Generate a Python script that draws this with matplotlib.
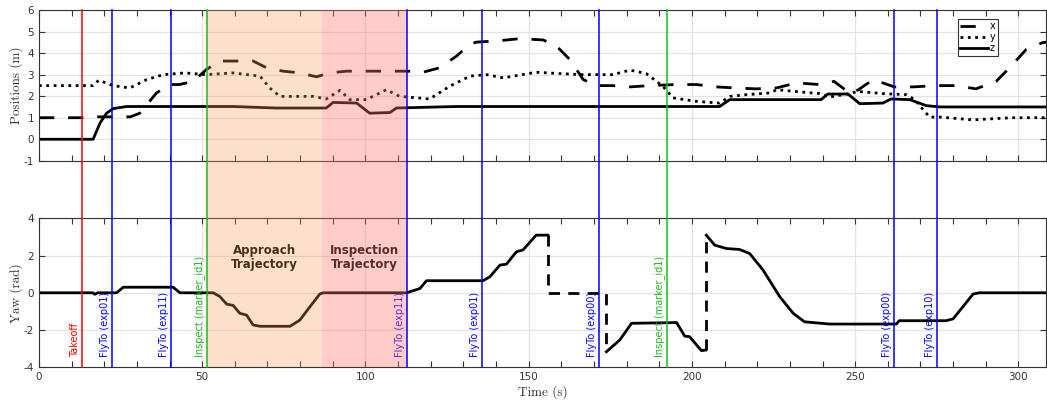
import numpy as np
import matplotlib
matplotlib.use("Agg")
import matplotlib.pyplot as plt
from matplotlib.lines import Line2D
from matplotlib.patches import Rectangle
from matplotlib.ticker import MultipleLocator
import matplotlib.transforms as mtransforms

plt.rcParams["axes.unicode_minus"] = False

# positions (m) vs time (s)
t_x = [0, 16.5, 18, 28, 30.9, 36, 40.1, 43, 47.3, 51.3, 55.4, 65.6, 69.7, 74.8, 79.9, 85, 89.1, 94.2,
       113, 117.6, 122.8, 127.9, 132, 134, 140, 147.3, 154.4, 158.5, 162.6, 166.7, 170.8, 175.8, 181,
       187, 195.2, 201.4, 207.5, 213.6, 219.7, 225.9, 232, 239, 243.5, 248.5, 251, 255.5, 262, 267.7,
       274.9, 281, 287, 293.2, 297.3, 302.4, 307.5, 308.5]
x_pos = [1.0, 1.0, 1.04, 1.04, 1.21, 2.15, 2.54, 2.54, 2.69, 3.24, 3.63, 3.63, 3.32, 3.16, 3.08, 2.9, 3.08, 3.16,
         3.16, 3.11, 3.32, 3.86, 4.41, 4.51, 4.56, 4.67, 4.61, 4.33, 3.7, 2.77, 2.49, 2.49, 2.43,
         2.49, 2.54, 2.54, 2.43, 2.38, 2.34, 2.38, 2.62, 2.54, 2.69, 2.12, 2.3, 2.77, 2.43, 2.43,
         2.49, 2.49, 2.34, 2.69, 3.32, 4.17, 4.49, 4.5]
t_y = [0, 16.6, 18.3, 22.7, 27.8, 33, 38.1, 44.7, 51.3, 59.5, 67.7, 70.7, 73.8, 79.9, 84, 88, 92.2, 95.2,
       100.3, 106.4, 110.5, 119.7, 125.8, 132, 137, 142.2, 152.3, 165.6, 175.8, 181, 186, 191.1, 194.2,
       201.3, 208.5, 211.6, 216.7, 223.8, 226, 233, 239.1, 242.2, 248.3, 250.8, 258.5, 265.7, 268.2,
       272.8, 275.9, 286, 298, 308.5]
y_pos = [2.49, 2.49, 2.74, 2.49, 2.38, 2.77, 3.0, 3.08, 3.0, 3.08, 2.93, 2.38, 1.99, 1.99, 1.99, 1.87, 2.27, 1.84,
         1.84, 2.3, 1.99, 1.87, 2.46, 2.93, 3.0, 2.85, 3.11, 3.0, 3.0, 3.21, 3.05, 2.46, 1.92,
         1.76, 1.68, 1.99, 2.07, 2.15, 2.3, 2.2, 2.12, 1.96, 2.12, 2.22, 2.12, 2.07, 1.84,
         1.03, 1.03, 0.9, 1.0, 1.0]
t_z = [0, 16.6, 18.7, 20.7, 22.7, 26.8, 59.5, 72.7, 88, 90.1, 97.3, 101.3, 107.5, 109.5, 127.8, 208.5,
       211.6, 239.6, 241.6, 247.8, 251.4, 258.5, 261, 266.7, 271.8, 275.9, 308.5]
z_pos = [0, 0, 0.75, 1.21, 1.42, 1.52, 1.52, 1.45, 1.45, 1.71, 1.68, 1.21, 1.24, 1.45, 1.52, 1.52,
         1.84, 1.84, 2.1, 2.1, 1.65, 1.68, 1.87, 1.84, 1.56, 1.5, 1.5]

# yaw (rad): solid segments and the dashed jumps
t_yaw_a = [0, 16.5, 17.1, 18, 23.8, 25.8, 41.1, 43.2, 53.4, 55.4, 57.5, 59.5, 61.5, 63.6, 65.6, 67.7,
           76.9, 79.9, 83, 86, 87, 112.6, 116.7, 118.7, 136, 138.1, 141.2, 143.2, 146.2, 148.3, 152.3, 155.9]
yaw_a = [0, 0, -0.08, 0, 0, 0.3, 0.3, 0, 0, -0.2, -0.61, -0.68, -1.1, -1.2, -1.73, -1.8,
         -1.8, -1.47, -0.75, -0.07, 0, 0, 0.23, 0.65, 0.65, 0.86, 1.49, 1.54, 2.2, 2.31, 3.1, 3.1]
t_yaw_b = [173.8, 177.9, 181.5, 195.3, 197.8, 199.3, 201.4, 202.9, 204.2]
yaw_b = [-3.17, -2.54, -1.64, -1.6, -2.33, -2.36, -2.8, -3.11, -3.08]
t_yaw_c = [204.4, 207, 210.6, 214.6, 217.7, 221.8, 226.9, 231, 234.5, 242.2, 253.4, 262.6, 263.5,
           277.9, 280, 283, 286.1, 288, 308.5]
yaw_c = [3.1, 2.56, 2.38, 2.33, 2.11, 1.22, -0.21, -1.1, -1.56, -1.68, -1.68, -1.68, -1.5,
         -1.5, -1.4, -0.75, -0.07, 0, 0]
t_yaw_jump = [155.9, 155.9, 173.6, 173.6, np.nan, 204.2, 204.2]
yaw_jump = [3.1, 0, 0, -3.0, np.nan, -3.08, 3.1]

# events
ev_t = [13.3, 22.4, 40.3, 51.5, 112.6, 135.7, 171.4, 192.5, 261.9, 275.2]
ev_label = ["Takeoff", "FlyTo (exp01)", "FlyTo (exp11)", "Inspect (marker_id1)", "FlyTo (exp11)",
            "FlyTo (exp01)", "FlyTo (exp00)", "Inspect (marker_id1)", "FlyTo (exp00)", "FlyTo (exp10)"]
ev_color = ["#ff0000", "#0000ff", "#0000ff", "#1db81d", "#0000ff",
            "#0000ff", "#0000ff", "#1db81d", "#0000ff", "#0000ff"]
phase_start = [51.5, 86.7]
phase_end = [86.7, 112.6]
phase_label = ["Approach\nTrajectory", "Inspection\nTrajectory"]
phase_color = [(0.97, 0.6, 0.33), (1.0, 0.45, 0.42)]
phase_alpha = [0.3, 0.36]

XMAX = 308.5
fig = plt.figure(figsize=(10.47, 4), dpi=100)
ax1 = fig.add_axes([0.0372, 0.598, 0.962, 0.377])
ax2 = fig.add_axes([0.0372, 0.082, 0.962, 0.372])

lw = 2.0
ax1.plot(t_x, x_pos, color="black", lw=lw, dashes=(5.5, 5), label="x")
ax1.plot(t_y, y_pos, color="black", lw=lw, linestyle=":", label="y")
ax1.plot(t_z, z_pos, color="black", lw=lw, label="z")
ax1.set_ylim(-1, 6)
ax1.set_ylabel("Positions (m)", fontfamily="cmr10", fontsize=9.5, color="#333333")
leg = ax1.legend(loc="upper right", bbox_to_anchor=(0.952, 0.94), fontsize=7, handlelength=2.8,
                 handletextpad=0.2, labelspacing=0.1, borderpad=0.25, borderaxespad=0,
                 fancybox=False, framealpha=1)
leg.get_frame().set_edgecolor("#333333")
leg.get_frame().set_linewidth(0.8)

ax2.plot(t_yaw_a, yaw_a, color="black", lw=lw)
ax2.plot(t_yaw_b, yaw_b, color="black", lw=lw)
ax2.plot(t_yaw_c, yaw_c, color="black", lw=lw)
ax2.plot(t_yaw_jump, yaw_jump, color="black", lw=lw, dashes=(4, 3))
ax2.set_ylim(-4, 4)
ax2.yaxis.set_major_locator(MultipleLocator(2))
ax2.set_ylabel("Yaw (rad)", fontfamily="cmr10", fontsize=9.5, color="#333333")
ax2.set_xlabel("Time (s)", fontfamily="cmr10", fontsize=9.5, color="#333333", labelpad=2)

for ax in (ax1, ax2):
    ax.set_xlim(0, XMAX)
    ax.xaxis.set_major_locator(MultipleLocator(50))
    ax.xaxis.set_minor_locator(MultipleLocator(10))
    ax.grid(True, which="major", color="#e3e3e3", lw=0.9)
    ax.set_axisbelow(True)
    ax.tick_params(which="both", direction="in", top=True, right=True, length=4, width=0.8,
                   labelsize=7.5, labelcolor="#333333", color="#333333")
    for s in ax.spines.values():
        s.set_color("#333333")
        s.set_linewidth(0.8)
ax1.tick_params(labelbottom=False)
ax1.yaxis.set_major_locator(MultipleLocator(1))
ax1.yaxis.set_label_coords(-0.016, 0.5)
ax2.yaxis.set_label_coords(-0.016, 0.5)

# event labels
for t, lab, c in zip(ev_t, ev_label, ev_color):
    ax2.text(t - 0.6, -3.45, lab, rotation=90, ha="right", va="bottom", color=c, fontsize=7)
for s, e, lab in zip(phase_start, phase_end, phase_label):
    ax2.text((s + e) / 2, 1.9, lab, ha="center", va="center", fontsize=8.5, fontweight="bold",
             color="black", linespacing=1.05)

# event lines and shading across both panels
trans = mtransforms.blended_transform_factory(ax2.transData, fig.transFigure)
y0, y1 = 0.082, 0.975
for s, e, c, a in zip(phase_start, phase_end, phase_color, phase_alpha):
    fig.add_artist(Rectangle((s, y0), e - s, y1 - y0, transform=trans, facecolor=c, alpha=a,
                             edgecolor="none", zorder=5))
for t, c in zip(ev_t, ev_color):
    fig.add_artist(Line2D([t, t], [y0, y1], transform=trans, color=c, lw=1.1, zorder=6))

fig.savefig("out.png", dpi=100)
